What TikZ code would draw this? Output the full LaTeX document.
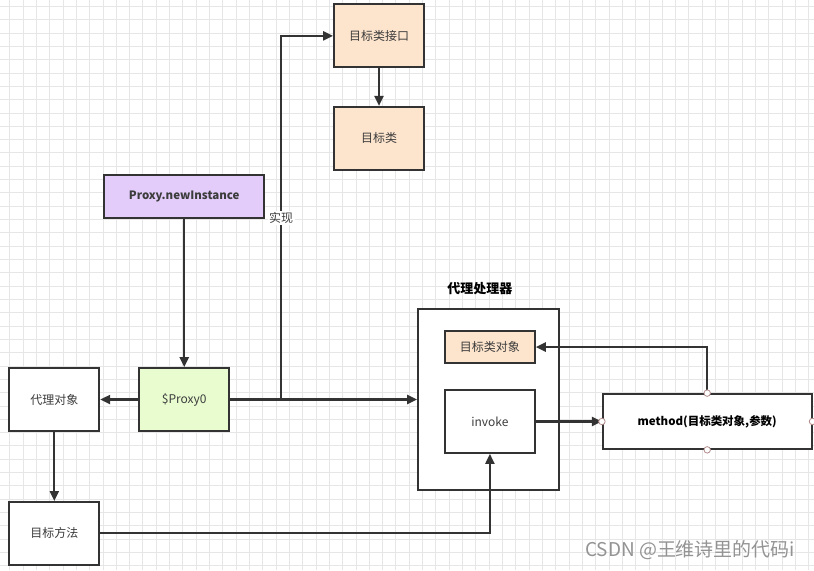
\documentclass[tikz,border=0pt]{standalone}
\usepackage{fontspec}
\setmainfont{Noto Sans CJK SC}
\usetikzlibrary{arrows.meta, positioning}
\definecolor{boxline}{HTML}{333333}
\definecolor{labeltext}{HTML}{3C3C3C}
\definecolor{gridgrey}{HTML}{E6E6E6}
\definecolor{orangefill}{HTML}{FDE4CC}
\definecolor{purplefill}{HTML}{E3CCFA}
\definecolor{greenfill}{HTML}{E8FCCF}
\definecolor{portline}{HTML}{B08C8C}

\begin{document}
\begin{tikzpicture}[x=1pt, y=-1pt,
		>={Triangle[length=10pt,width=9pt]},
		box/.style={draw=boxline, line width=1.8pt, minimum width=90pt, minimum height=63pt,
			inner sep=0pt, text=labeltext, font=\fontsize{12}{14}\selectfont},
		link/.style={draw=boxline, line width=2.2pt},
		port/.style={circle, draw=portline, fill=white, line width=0.8pt, minimum size=6.5pt, inner sep=0pt}]
		% background grid
		\fill[white] (0,0) rectangle (814,570);
		\foreach \gx in {0,...,60} \draw[gridgrey, line width=0.8pt] ({9.3+13.33*\gx},0) -- ({9.3+13.33*\gx},570);
		\foreach \gy in {0,...,42} \draw[gridgrey, line width=0.8pt] (0,{6+13.33*\gy}) -- (814,{6+13.33*\gy});
		\useasboundingbox (0,0) rectangle (814,570);

		% target interface and class
		\node[box, fill=orangefill] (targetif) at (379,35.5) {目标类接口};
		\node[box, fill=orangefill] (targetcls) at (379,138) {目标类};

		% proxy creation
		\node[box, fill=purplefill, minimum width=160pt, minimum height=43pt, font=\bfseries\fontsize{11.5}{13}\selectfont] (newinst) at (184,196.5) {Proxy.newInstance};
		\node[box, fill=greenfill] (proxy) at (184,399.5) {\$Proxy0};
		\node[box, fill=white] (proxyobj) at (54,399.5) {代理对象};
		\node[box, fill=white] (targetmethod) at (54,533.5) {目标方法};

		% invocation handler
		\node[box, fill=white, minimum width=141pt, minimum height=181pt] (handler) at (488.5,399.5) {};
		\node[text=black, font=\bfseries\fontsize{13}{15}\selectfont] (handlertitle) at (480,288) {代理处理器};
		\node[box, fill=orangefill, minimum height=32pt] (targetobj) at (490,347) {目标类对象};
		\node[box, fill=white] (invoke) at (490,421.5) {invoke};
		\node[box, fill=white, minimum width=209pt, minimum height=55pt, text=black, font=\bfseries\fontsize{11.5}{13}\selectfont] (method) at (707.5,421.5) {method(目标类对象,参数)};

		\coordinate (split) at (281,399.5);

		% connectors
		\draw[link, ->] (targetif) -- (targetcls);
		\draw[link, ->] (newinst) -- (proxy);
		\draw[link, ->] (proxy) -- (proxyobj);
		\draw[link, ->] (proxyobj) -- (targetmethod);
		\draw[link, ->] (proxy.east) -- (proxy.east -| handler.west);
		\draw[link, ->] (split) |- (targetif.west) node[pos=0.25, fill=white, inner sep=1.5pt, text=labeltext, font=\fontsize{12}{14}\selectfont] (impl) {实现};
		\draw[link, ->] (targetmethod.east) -| (invoke.south);
		\draw[link, ->] (invoke.east) -- (method.west);
		\draw[link, ->] (method.north) |- (targetobj.east);
		\foreach \side in {north,south,east,west} \node[port] at (method.\side) {};

		% watermark
		\node[anchor=east, text=gray!85, font=\fontsize{19}{21}\selectfont] (mark) at (799,550) {CSDN @王维诗里的代码i};
	\end{tikzpicture}
\end{document}
